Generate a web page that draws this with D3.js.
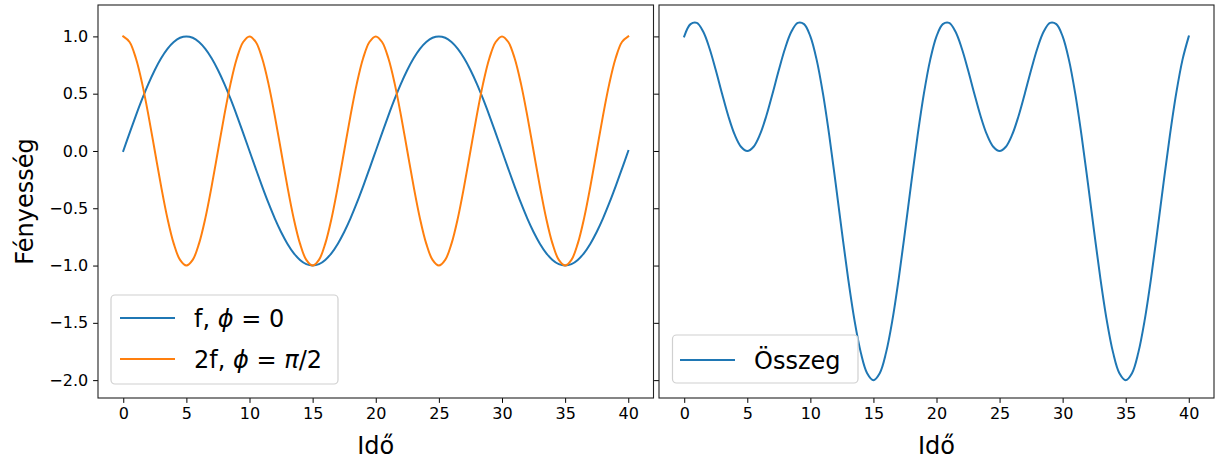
<!DOCTYPE html>
<html>
<head>
<meta charset="utf-8">
<script src="https://cdn.jsdelivr.net/npm/d3@7"></script>
<style>
  html, body { margin: 0; padding: 0; background: #fff; }
  svg { display: block; font-family: "DejaVu Sans", sans-serif; }
  .tick text { font-family: "DejaVu Sans", sans-serif; font-size: 16px; fill: #000; }
</style>
</head>
<body>
<svg id="chart" width="1224" height="459"></svg>
<script>
// Sample times (Idő)
const times = [
  0,0.5,1,1.5,2,2.5,3,3.5,4,4.5,5,5.5,6,6.5,7,7.5,8,8.5,9,9.5,
  10,10.5,11,11.5,12,12.5,13,13.5,14,14.5,15,15.5,16,16.5,17,17.5,18,18.5,19,19.5,
  20,20.5,21,21.5,22,22.5,23,23.5,24,24.5,25,25.5,26,26.5,27,27.5,28,28.5,29,29.5,
  30,30.5,31,31.5,32,32.5,33,33.5,34,34.5,35,35.5,36,36.5,37,37.5,38,38.5,39,39.5,40
];

// f, phi = 0
const seriesF = [
  0,0.156,0.309,0.454,0.588,0.707,0.809,0.891,0.951,0.988,1,
  0.988,0.951,0.891,0.809,0.707,0.588,0.454,0.309,0.156,0,
  -0.156,-0.309,-0.454,-0.588,-0.707,-0.809,-0.891,-0.951,-0.988,-1,
  -0.988,-0.951,-0.891,-0.809,-0.707,-0.588,-0.454,-0.309,-0.156,0,
  0.156,0.309,0.454,0.588,0.707,0.809,0.891,0.951,0.988,1,
  0.988,0.951,0.891,0.809,0.707,0.588,0.454,0.309,0.156,0,
  -0.156,-0.309,-0.454,-0.588,-0.707,-0.809,-0.891,-0.951,-0.988,-1,
  -0.988,-0.951,-0.891,-0.809,-0.707,-0.588,-0.454,-0.309,-0.156,0
];

// 2f, phi = pi/2
const series2F = [
  1,0.951,0.809,0.588,0.309,0,-0.309,-0.588,-0.809,-0.951,-1,
  -0.951,-0.809,-0.588,-0.309,0,0.309,0.588,0.809,0.951,1,
  0.951,0.809,0.588,0.309,0,-0.309,-0.588,-0.809,-0.951,-1,
  -0.951,-0.809,-0.588,-0.309,0,0.309,0.588,0.809,0.951,1,
  0.951,0.809,0.588,0.309,0,-0.309,-0.588,-0.809,-0.951,-1,
  -0.951,-0.809,-0.588,-0.309,0,0.309,0.588,0.809,0.951,1,
  0.951,0.809,0.588,0.309,0,-0.309,-0.588,-0.809,-0.951,-1,
  -0.951,-0.809,-0.588,-0.309,0,0.309,0.588,0.809,0.951,1
];

// Összeg
const seriesSum = [
  1,1.107,1.118,1.042,0.897,0.707,0.500,0.303,0.142,0.037,0,
  0.037,0.142,0.303,0.500,0.707,0.897,1.042,1.118,1.107,1,
  0.795,0.500,0.134,-0.279,-0.707,-1.118,-1.479,-1.760,-1.939,-2,
  -1.939,-1.760,-1.479,-1.118,-0.707,-0.279,0.134,0.500,0.795,1,
  1.107,1.118,1.042,0.897,0.707,0.500,0.303,0.142,0.037,0,
  0.037,0.142,0.303,0.500,0.707,0.897,1.042,1.118,1.107,1,
  0.795,0.500,0.134,-0.279,-0.707,-1.118,-1.479,-1.760,-1.939,-2,
  -1.939,-1.760,-1.479,-1.118,-0.707,-0.279,0.134,0.500,0.795,1
];

const xTicks = [0, 5, 10, 15, 20, 25, 30, 35, 40];
const yTicks = [1.0, 0.5, 0.0, -0.5, -1.0, -1.5, -2.0];

const BLUE = "#1f77b4", ORANGE = "#ff7f0e";
const svg = d3.select("#chart");

const plotTop = 5, plotBottom = 398;
const y = d3.scaleLinear().domain([-2.156, 1.274]).range([plotBottom, plotTop]);
const fmtY = v => d3.format(".1f")(v).replace("-", "\u2212");

const panels = [
  { x0: 98, x1: 653.5, showYLabels: true },
  { x0: 659, x1: 1214, showYLabels: false }
];

function styleAxis(ga) {
  ga.attr("font-family", null).attr("font-size", null);
  ga.select(".domain").remove();
  ga.selectAll("line").attr("stroke", "#000").attr("stroke-width", 1);
}

function drawPanel(p, lines) {
  const x = d3.scaleLinear().domain([-2, 42]).range([p.x0, p.x1]);
  const g = svg.append("g");

  const clipId = "clip" + Math.round(p.x0);
  svg.append("clipPath").attr("id", clipId)
    .append("rect").attr("x", p.x0).attr("y", plotTop)
    .attr("width", p.x1 - p.x0).attr("height", plotBottom - plotTop);

  const line = d3.line()
    .x((d, i) => x(times[i]))
    .y(d => y(d))
    .curve(d3.curveCatmullRom.alpha(0.5));

  lines.forEach(l => {
    g.append("path").datum(l.values)
      .attr("clip-path", `url(#${clipId})`)
      .attr("fill", "none").attr("stroke", l.color)
      .attr("stroke-width", 2).attr("stroke-linejoin", "round")
      .attr("stroke-linecap", "square")
      .attr("d", line);
  });

  // axes
  const xAxis = d3.axisBottom(x).tickValues(xTicks).tickSize(4.9).tickPadding(4.9)
    .tickFormat(d3.format("d"));
  const gx = g.append("g").attr("transform", `translate(0,${plotBottom})`).call(xAxis);
  styleAxis(gx);

  const yAxis = d3.axisLeft(y).tickValues(yTicks).tickSize(4.9).tickPadding(4.9)
    .tickFormat(p.showYLabels ? fmtY : "");
  const gy = g.append("g").attr("transform", `translate(${p.x0},0)`).call(yAxis);
  styleAxis(gy);

  // frame
  g.append("rect").attr("x", p.x0).attr("y", plotTop)
    .attr("width", p.x1 - p.x0).attr("height", plotBottom - plotTop)
    .attr("fill", "none").attr("stroke", "#222").attr("stroke-width", 1.1);

  // x label
  g.append("text").attr("x", (p.x0 + p.x1) / 2).attr("y", 454)
    .attr("text-anchor", "middle").style("font-size", "24px").text("Idő");
  return g;
}

const gL = drawPanel(panels[0], [
  { values: seriesF, color: BLUE },
  { values: series2F, color: ORANGE }
]);
const gR = drawPanel(panels[1], [
  { values: seriesSum, color: BLUE }
]);

// y label
svg.append("text")
  .attr("transform", `translate(33,${(plotTop + plotBottom) / 2}) rotate(-90)`)
  .attr("text-anchor", "middle").style("font-size", "24px").text("Fényesség");

// legends
function legendBox(g, x, yTop, w, h) {
  g.append("rect").attr("x", x).attr("y", yTop).attr("width", w).attr("height", h)
    .attr("rx", 4).attr("ry", 4)
    .attr("fill", "#fff").attr("fill-opacity", 0.8)
    .attr("stroke", "#d0d0d0").attr("stroke-width", 1.2);
}
function legendEntry(g, x, yc, color, parts) {
  g.append("line").attr("x1", x).attr("x2", x + 55).attr("y1", yc).attr("y2", yc)
    .attr("stroke", color).attr("stroke-width", 2);
  const t = g.append("text").attr("x", x + 74).attr("y", yc + 9).style("font-size", "24px");
  parts.forEach(pt => {
    const s = t.append("tspan").text(pt.t);
    if (pt.i) s.attr("font-style", "italic");
  });
}

legendBox(gL, 111, 295, 227, 89);
legendEntry(gL, 120, 318, BLUE, [{ t: "f, " }, { t: "ϕ", i: true }, { t: " = 0" }]);
legendEntry(gL, 120, 359, ORANGE, [{ t: "2f, " }, { t: "ϕ", i: true }, { t: " = " }, { t: "π", i: true }, { t: "/2" }]);

legendBox(gR, 672.5, 335, 185.5, 48);
legendEntry(gR, 680, 360, BLUE, [{ t: "Összeg" }]);
</script>
</body>
</html>
